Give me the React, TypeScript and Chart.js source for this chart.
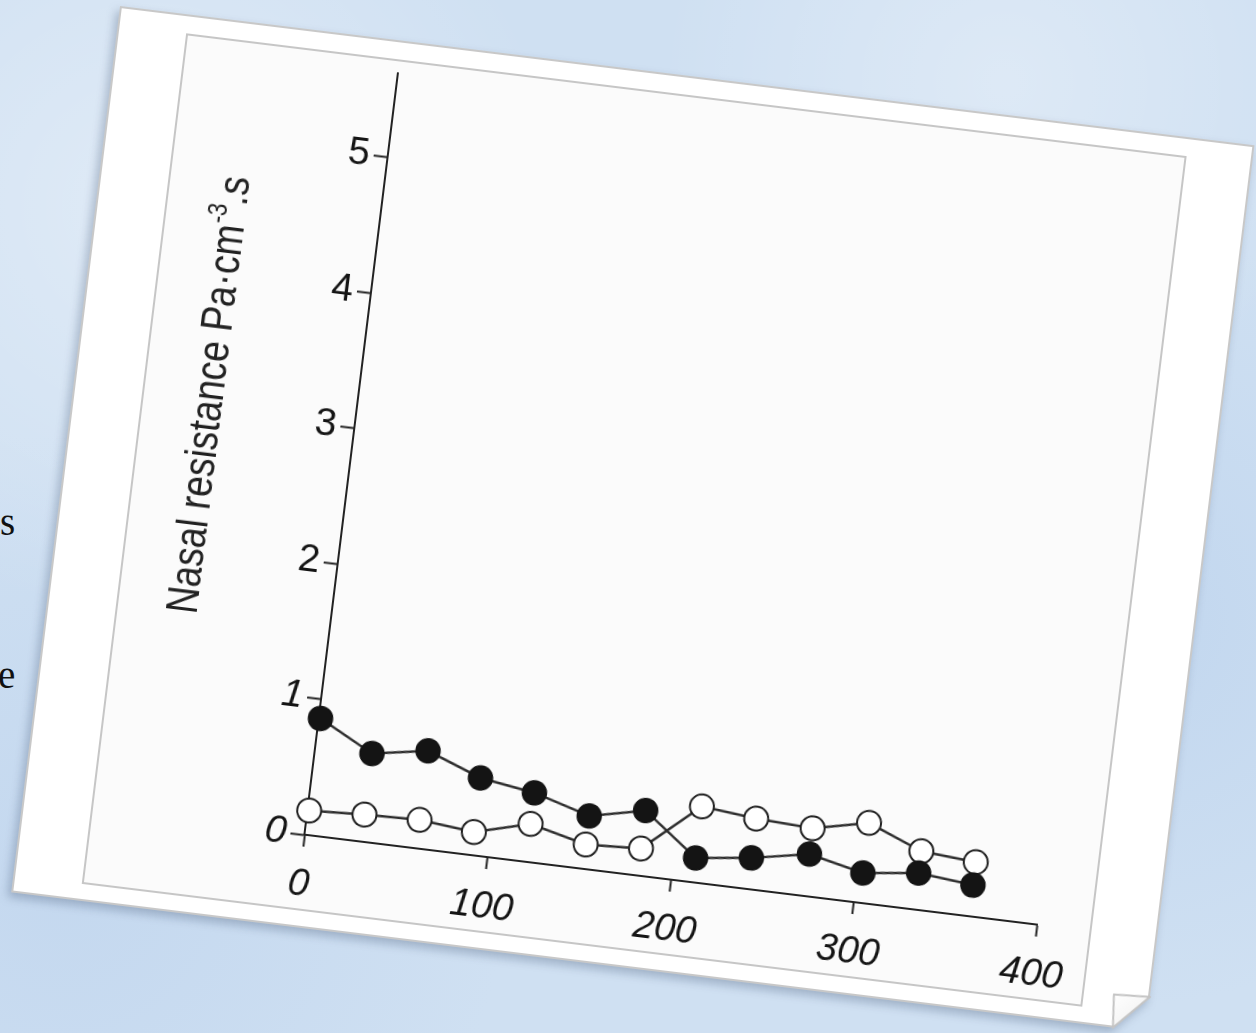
import React, { useEffect, useRef } from "react";
import { Chart, registerables } from "chart.js";

Chart.register(...registerables);

// ---- data ----
const X_VALUES = [1, 31, 61, 91, 121, 152, 182, 212, 242, 273, 303, 333, 363];
const FILLED_SERIES = [0.86, 0.65, 0.72, 0.57, 0.51, 0.39, 0.48, 0.18, 0.23, 0.31, 0.22, 0.27, 0.23];
const OPEN_SERIES = [0.18, 0.2, 0.21, 0.17, 0.28, 0.18, 0.2, 0.56, 0.52, 0.5, 0.59, 0.43, 0.4];
const X_TICKS = [0, 100, 200, 300, 400];
const Y_TICKS = [0, 1, 2, 3, 4, 5];
const Y_ITALIC_TICKS = [0, 1];
const X_MIN = 0;
const X_MAX = 400;
const Y_MIN = 0;
const Y_MAX = 5.62;
const Y_LABEL_MAIN = "Nasal resistance Pa·cm";
const Y_LABEL_SUP = "-3";
const Y_LABEL_END = ".s";
const BG_LETTERS = ["s", "e"];

const FONT = '"Liberation Sans", Arial, Helvetica, sans-serif';
const INK = "#141414";

const yLabelPlugin = {
  id: "yLabel",
  afterDraw(chart: any) {
    const { ctx, chartArea } = chart;
    const size = 45;
    const mainFont = `normal normal 400 ${size}px ${FONT}`;
    const supFont = `normal normal 400 ${Math.round(size * 0.6)}px ${FONT}`;
    ctx.save();
    ctx.font = mainFont;
    const w1 = ctx.measureText(Y_LABEL_MAIN).width;
    const w3 = ctx.measureText(Y_LABEL_END).width;
    ctx.font = supFont;
    const w2 = ctx.measureText(Y_LABEL_SUP).width;
    const total = w1 + w2 + w3;
    const sx = 440 / total;
    ctx.translate(chartArea.left - 134, chartArea.bottom - 425);
    ctx.rotate(-Math.PI / 2);
    ctx.scale(sx, 1);
    ctx.fillStyle = "#222";
    ctx.textBaseline = "alphabetic";
    ctx.textAlign = "left";
    let x = -total / 2;
    ctx.font = mainFont;
    ctx.fillText(Y_LABEL_MAIN, x, 0);
    x += w1;
    ctx.font = supFont;
    ctx.fillText(Y_LABEL_SUP, x, -size * 0.42);
    x += w2;
    ctx.font = mainFont;
    ctx.fillText(Y_LABEL_END, x, 0);
    ctx.restore();
  },
};

function ChartCanvas() {
  const ref = useRef<HTMLCanvasElement | null>(null);
  useEffect(() => {
    if (!ref.current) return;
    const chart = new Chart(ref.current, {
      type: "line",
      data: {
        datasets: [
          {
            data: X_VALUES.map((x, i) => ({ x, y: FILLED_SERIES[i] })),
            borderColor: "#2e2e2e",
            borderWidth: 2.5,
            pointRadius: 12,
            pointBackgroundColor: "#141414",
            pointBorderColor: "#141414",
            pointBorderWidth: 1.5,
            clip: false,
          } as any,
          {
            data: X_VALUES.map((x, i) => ({ x, y: OPEN_SERIES[i] })),
            borderColor: "#2e2e2e",
            borderWidth: 2.5,
            pointRadius: 12,
            pointBackgroundColor: "#ffffff",
            pointBorderColor: "#1e1e1e",
            pointBorderWidth: 2,
            clip: false,
          } as any,
        ],
      },
      options: {
        animation: false,
        responsive: false,
        maintainAspectRatio: false,
        layout: { padding: { left: 0, top: 0, right: 55, bottom: 0 } },
        plugins: { legend: { display: false }, tooltip: { enabled: false } },
        scales: {
          x: {
            type: "linear",
            min: X_MIN,
            max: X_MAX,
            afterBuildTicks: (s: any) => {
              s.ticks = X_TICKS.map((v) => ({ value: v }));
            },
            afterFit: (s: any) => {
              s.height = 76;
              s.paddingLeft = 0;
              s.paddingRight = 0;
            },
            grid: {
              drawOnChartArea: false,
              drawTicks: true,
              tickLength: 12,
              tickColor: "#222",
              tickWidth: 2,
            },
            border: { display: true, color: "#222", width: 2 },
            ticks: {
              autoSkip: false,
              maxRotation: 0,
              padding: 16,
              color: INK,
              font: { family: FONT, size: 38, style: "italic" },
            },
          },
          y: {
            type: "linear",
            min: Y_MIN,
            max: Y_MAX,
            afterBuildTicks: (s: any) => {
              s.ticks = Y_TICKS.map((v) => ({ value: v }));
            },
            afterFit: (s: any) => {
              s.width = 215;
              s.paddingTop = 0;
              s.paddingBottom = 0;
            },
            grid: {
              drawOnChartArea: false,
              drawTicks: true,
              tickLength: 14,
              tickColor: "#222",
              tickWidth: 2,
            },
            border: { display: true, color: "#222", width: 2 },
            ticks: {
              autoSkip: false,
              padding: 4,
              color: INK,
              font: (c: any) => ({
                family: FONT,
                size: 39,
                style: c.tick && Y_ITALIC_TICKS.includes(c.tick.value) ? "italic" : "normal",
              }),
            },
          },
        },
      },
      plugins: [yLabelPlugin],
    } as any);
    return () => chart.destroy();
  }, []);
  return (
    <canvas
      ref={ref}
      width={1008}
      height={857}
      style={{ position: "absolute", left: 69, top: 19, width: 1008, height: 857 }}
    />
  );
}

export default function App() {
  return (
    <div
      style={{
        position: "fixed",
        left: 0,
        top: 0,
        width: 1256,
        height: 1033,
        overflow: "hidden",
        backgroundColor: "#cfe0f2",
        backgroundImage:
          "radial-gradient(circle at 12% 20%, rgba(255,255,255,0.35), rgba(255,255,255,0) 30%)," +
          "radial-gradient(circle at 80% 8%, rgba(255,255,255,0.3), rgba(255,255,255,0) 25%)," +
          "radial-gradient(circle at 90% 60%, rgba(180,205,235,0.5), rgba(180,205,235,0) 30%)," +
          "radial-gradient(circle at 5% 85%, rgba(185,208,236,0.5), rgba(185,208,236,0) 30%)",
      }}
    >
      <div
        style={{
          position: "absolute",
          left: 0,
          top: 502,
          font: '39px "Liberation Serif", "Times New Roman", serif',
          lineHeight: 1,
          color: "#111",
        }}
      >
        {BG_LETTERS[0]}
      </div>
      <div
        style={{
          position: "absolute",
          left: -2,
          top: 655,
          font: '39px "Liberation Serif", "Times New Roman", serif',
          lineHeight: 1,
          color: "#111",
        }}
      >
        {BG_LETTERS[1]}
      </div>

      <div
        style={{
          position: "absolute",
          left: 120,
          top: 6,
          width: 1143,
          height: 893,
          transform: "rotate(7deg)",
          transformOrigin: "0 0",
          filter: "drop-shadow(-3px 5px 5px rgba(70,90,120,0.35))",
        }}
      >
        <div
          style={{
            position: "absolute",
            left: 0,
            top: 0,
            width: 1143,
            height: 893,
            boxSizing: "border-box",
            background: "#ffffff",
            border: "2px solid #c8c8c8",
            clipPath: "polygon(0 0, 1143px 0, 1143px 858px, 1110px 893px, 0 893px)",
          }}
        />
        <svg
          width={1143}
          height={893}
          style={{ position: "absolute", left: 0, top: 0, overflow: "visible" }}
        >
          <defs>
            <linearGradient id="flap" x1="0" y1="0" x2="1" y2="1">
              <stop offset="0" stopColor="#ffffff" />
              <stop offset="1" stopColor="#eeeeee" />
            </linearGradient>
          </defs>
          <polygon
            points="1107,860 1143,858 1110,893"
            fill="url(#flap)"
            stroke="#c4c4c4"
            strokeWidth={2}
            strokeLinejoin="round"
          />
        </svg>
        <div
          style={{
            position: "absolute",
            left: 69,
            top: 19,
            width: 1008,
            height: 857,
            boxSizing: "border-box",
            background: "#fbfbfb",
            border: "2px solid #c6c6c6",
          }}
        />
        <ChartCanvas />
      </div>
    </div>
  );
}
